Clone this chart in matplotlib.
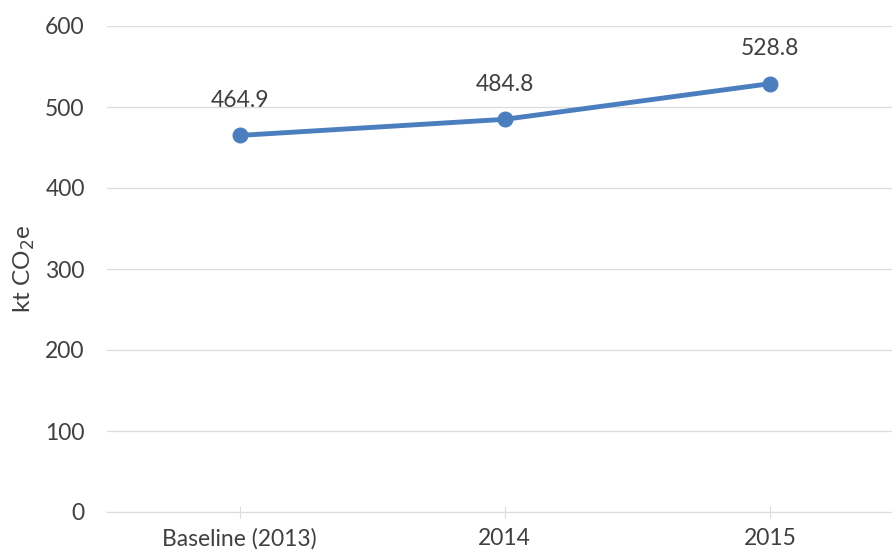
import matplotlib.pyplot as plt

years = ['Baseline (2013)', '2014', '2015']
emissions = [464.9, 484.8, 528.8]
yticks = [0, 100, 200, 300, 400, 500, 600]

plt.rcParams['font.family'] = ['Lato', 'DejaVu Sans']
txt = '#404040'
grid = '#dcdcdc'
blue = '#4a7ebf'

fig = plt.figure(figsize=(8.92, 5.55), dpi=100)
ax = fig.add_axes([107/892, 43/555, 1 - 107/892, 486/555])

x = range(len(years))
ax.plot(x, emissions, color=blue, lw=3.5, marker='o', ms=10.5, solid_capstyle='round', zorder=3)
for i, v in enumerate(emissions):
    ax.annotate(f'{v:.1f}', (i, v), xytext=(0, 25), textcoords='offset points',
                ha='center', va='center', fontsize=16.5, color=txt)

ax.set_xlim(-0.5, 2.46)
ax.set_ylim(0, 600)
ax.set_yticks(yticks)
ax.set_xticks(list(x))
ax.set_xticklabels(years)
ax.grid(axis='y', color=grid, lw=0.9)
ax.set_axisbelow(True)
for s in ['top', 'right', 'left']:
    ax.spines[s].set_visible(False)
ax.spines['bottom'].set_color(grid)
ax.tick_params(axis='y', length=0, pad=16, labelsize=16.5, labelcolor=txt)
ax.tick_params(axis='x', direction='inout', length=9, color=grid, pad=7, labelsize=16.5, labelcolor=txt)
ax.set_ylabel('kt CO$_2$e', fontsize=17.5, color=txt, labelpad=6)

fig.savefig('out.png', dpi=100)
